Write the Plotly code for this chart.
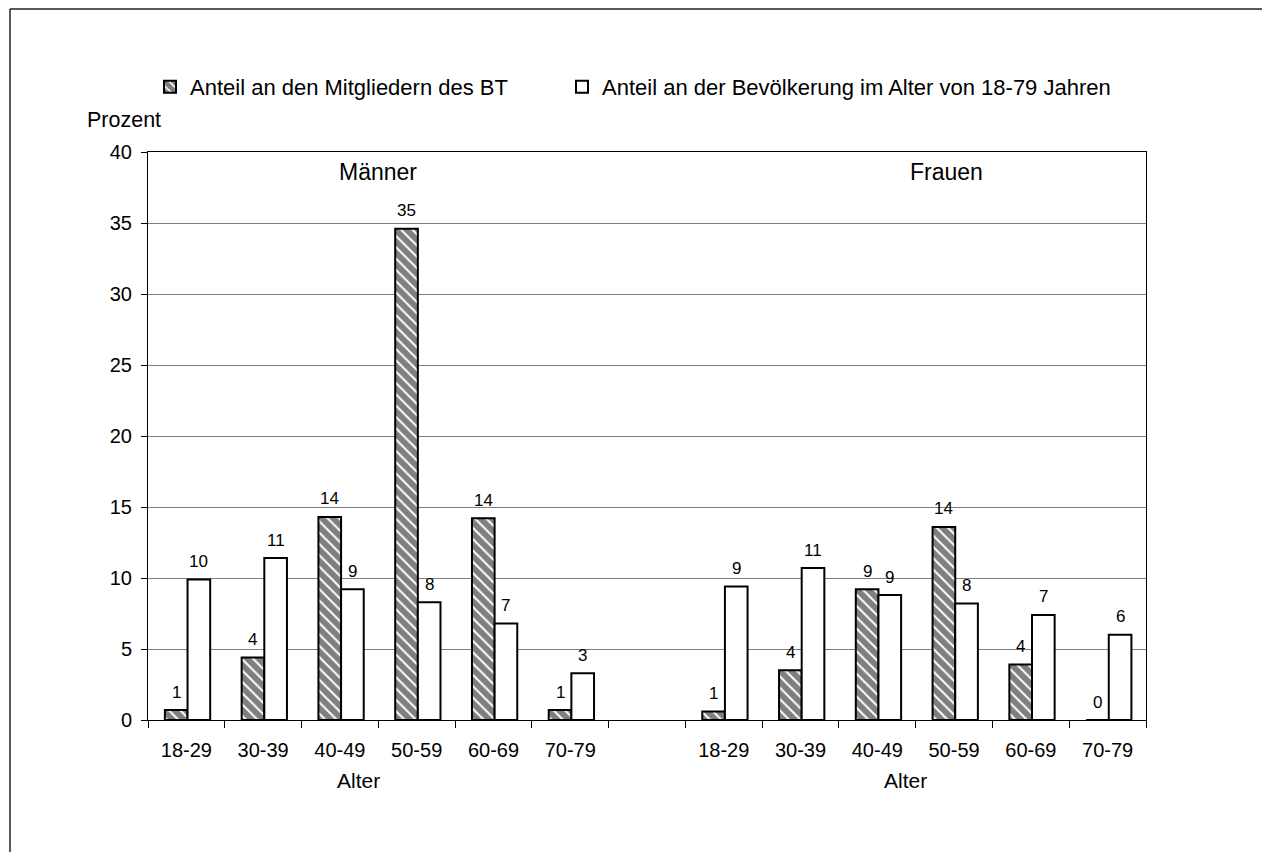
import plotly.graph_objects as go

# ---- data ----
age_groups = ["18-29", "30-39", "40-49", "50-59", "60-69", "70-79"]
men_bt = [0.7, 4.4, 14.3, 34.6, 14.2, 0.7]
men_pop = [9.9, 11.4, 9.2, 8.3, 6.8, 3.3]
women_bt = [0.6, 3.5, 9.2, 13.6, 3.9, 0.0]
women_pop = [9.4, 10.7, 8.8, 8.2, 7.4, 6.0]
series_names = ["Anteil an den Mitgliedern des BT",
                "Anteil an der Bevölkerung im Alter von 18-79 Jahren"]
group_titles = ["Männer", "Frauen"]
x_title = "Alter"
y_title = "Prozent"

FONT = "Liberation Sans, Arial, sans-serif"

# category positions: men 0..5, gap at 6, women 7..12
men_x = list(range(6))
women_x = list(range(7, 13))
xs = men_x + women_x
bt_vals = men_bt + women_bt
pop_vals = men_pop + women_pop

BW = 0.295
OFF_BT = -0.28
OFF_POP = 0.015

fig = go.Figure()
fig.add_trace(go.Bar(
    x=xs, y=bt_vals, name=series_names[0], width=BW, offset=OFF_BT, legend="legend",
    marker=dict(color="white", line=dict(color="black", width=2),
                pattern=dict(shape="\\", fgcolor="black", bgcolor="white",
                             size=8, solidity=0.75, fillmode="overlay")),
))
fig.add_trace(go.Bar(
    x=xs, y=pop_vals, name=series_names[1], width=BW, offset=OFF_POP, legend="legend2",
    marker=dict(color="white", line=dict(color="black", width=2)),
))

annotations = []
for x, v in zip(xs, bt_vals):
    annotations.append(dict(x=x + OFF_BT + BW / 2, y=v, text=f"{v:.0f}", showarrow=False,
                            xanchor="center", yanchor="middle",
                            yshift=18, font=dict(size=17, color="black", family=FONT)))
for x, v in zip(xs, pop_vals):
    annotations.append(dict(x=x + OFF_POP + BW / 2, y=v, text=f"{v:.0f}", showarrow=False,
                            xanchor="center", yanchor="middle",
                            yshift=18, font=dict(size=17, color="black", family=FONT)))

# group titles & axis titles
PL, PR, PT, PB = 148, 1146, 152, 720
PW, PH = PR - PL, PB - PT
def xp(px):
    return (px - PL) / PW
def yp(py):
    return (PB - py) / PH

def label(px, py, text, size):
    return dict(xref="paper", yref="paper", x=xp(px), y=yp(py), text=text, showarrow=False,
                xanchor="center", yanchor="middle",
                font=dict(size=size, color="black", family=FONT))

annotations += [
    label(378, 172, group_titles[0], 23),
    label(946, 172, group_titles[1], 23),
    label(358, 780, x_title, 21),
    label(905, 780, x_title, 21),
    label(124, 120, y_title, 21.5),
]

shapes = [
    dict(type="line", xref="paper", yref="paper", x0=xp(10), y0=yp(9), x1=xp(1275), y1=yp(9),
         line=dict(color="#222", width=1.5)),
    dict(type="line", xref="paper", yref="paper", x0=xp(10), y0=yp(9), x1=xp(10), y1=yp(870),
         line=dict(color="#222", width=1.5)),
]

legend_common = dict(orientation="h", yanchor="middle", xanchor="left",
                     font=dict(size=22, family=FONT, color="black"),
                     bgcolor="rgba(0,0,0,0)")

fig.update_layout(
    width=1262, height=852,
    margin=dict(l=PL, r=1262 - PR, t=PT, b=852 - PB, pad=0),
    paper_bgcolor="white", plot_bgcolor="white",
    barmode="overlay",
    font=dict(family=FONT, size=20, color="black"),
    showlegend=True,
    legend=dict(x=xp(150), y=yp(87), **legend_common),
    legend2=dict(x=xp(562), y=yp(87), **legend_common),
    annotations=annotations,
    shapes=shapes,
    xaxis=dict(range=[-0.5, 12.5], tickmode="array", tickvals=xs, ticktext=age_groups + age_groups,
               ticks="", showline=True, linecolor="black", linewidth=1, mirror=True,
               showgrid=False, zeroline=False, tickfont=dict(size=20, family=FONT),
               ticklabelstandoff=12,
               minor=dict(ticks="outside", ticklen=7, tickwidth=1, tickcolor="black",
                          tickmode="array", tickvals=[i - 0.5 for i in range(14)], showgrid=False)),
    yaxis=dict(range=[0, 40], tickmode="linear", tick0=0, dtick=5, ticks="outside", ticklen=6,
               tickcolor="black", showline=True, linecolor="black", linewidth=1, mirror=True,
               showgrid=True, gridcolor="#808080", gridwidth=1, zeroline=False,
               ticklabelstandoff=5,
               tickfont=dict(size=20, family=FONT)),
)

fig.write_html("out.html", config={"displayModeBar": False},
               post_script="document.body.style.margin='0';")
